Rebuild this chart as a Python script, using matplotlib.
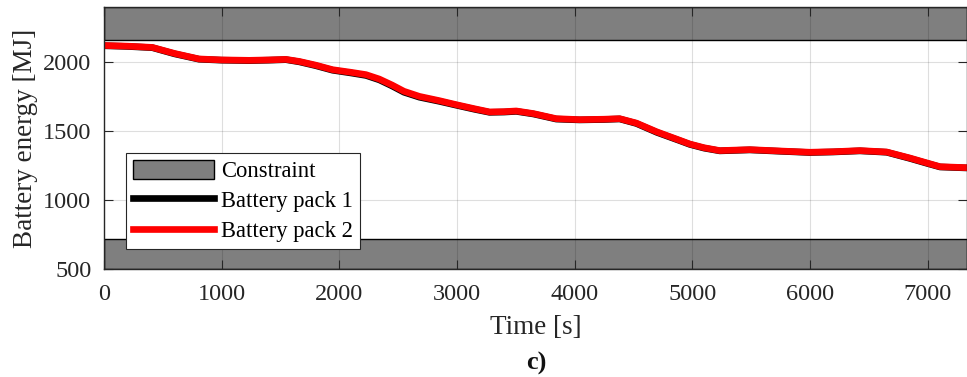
import matplotlib
matplotlib.use("Agg")
import matplotlib.pyplot as plt
from matplotlib.patches import Patch
from matplotlib.lines import Line2D

plt.rcParams['font.family'] = ['Liberation Serif', 'DejaVu Serif']
plt.rcParams['mathtext.fontset'] = 'stix'

# Time samples [s]
time_s = [0, 200, 411, 600, 808, 1000, 1234, 1400, 1546, 1660, 1800, 1943, 2100,
          2227, 2340, 2450, 2550, 2681, 2850, 2993, 3150, 3277, 3400, 3504, 3650,
          3844, 4043, 4250, 4383, 4525, 4700, 4894, 4979, 5100, 5234, 5489, 5750,
          6000, 6200, 6425, 6652, 6850, 7000, 7106, 7333]

# Battery energy of pack 2 [MJ]
pack2_MJ = [2123, 2118, 2109, 2065, 2025, 2018, 2015, 2018, 2022, 2007, 1980, 1947, 1928,
            1911, 1879, 1835, 1790, 1753, 1722, 1693, 1663, 1640, 1642, 1647, 1628,
            1591, 1584, 1587, 1591, 1559, 1495, 1434, 1407, 1380, 1359, 1366, 1356,
            1347, 1351, 1359, 1349, 1305, 1268, 1242, 1235]

# Battery energy of pack 1 [MJ]
pack1_MJ = [2121, 2116, 2107, 2062, 2023, 2016, 2013, 2016, 2020, 2004, 1976, 1943, 1923,
            1905, 1873, 1828, 1783, 1747, 1717, 1689, 1659, 1637, 1639, 1644, 1625,
            1588, 1582, 1585, 1589, 1556, 1491, 1431, 1404, 1377, 1357, 1364, 1354,
            1345, 1349, 1357, 1347, 1302, 1265, 1240, 1233]

# Allowed energy window [MJ]
energy_min = 715
energy_max = 2165
y_limits = [500, 2400]
x_limits = [0, 7335]

fig = plt.figure(figsize=(9.67, 3.77), dpi=100)
ax = fig.add_axes([0.1075, 0.287, 0.8925, 0.6935])

band_kw = dict(facecolor='#7f7f7f', edgecolor='black', linewidth=1.0, zorder=1)
ax.fill_between(x_limits, [y_limits[0]] * 2, [energy_min] * 2, **band_kw)
ax.fill_between(x_limits, [energy_max] * 2, [y_limits[1]] * 2, **band_kw)

ax.plot(time_s, pack1_MJ, color='black', linewidth=4.8, zorder=2.1)
ax.plot(time_s, pack2_MJ, color='#ff0000', linewidth=4.8, zorder=2.2)

ax.set_xlim(x_limits)
ax.set_ylim(y_limits)
ax.set_xticks(range(0, 8000, 1000))
ax.set_yticks([500, 1000, 1500, 2000])

ax.grid(True, color='black', alpha=0.13, linewidth=0.8)
ax.tick_params(direction='in', length=6.5, width=0.8, top=True, right=True,
               labelsize=17.5, colors='#262626', labelcolor='#262626')
ax.tick_params(axis='y', pad=9)
ax.tick_params(axis='x', pad=11)
for s in ax.spines.values():
    s.set_linewidth(1.0)
    s.set_color('#262626')

ax.set_xlabel('Time [s]', fontsize=19.5, color='#262626', labelpad=7)
ax.set_ylabel('Battery energy [MJ]', fontsize=19.5, color='#262626', labelpad=4)

handles = [Patch(facecolor='#7f7f7f', edgecolor='black', linewidth=1.0),
           Line2D([], [], color='black', linewidth=4.8),
           Line2D([], [], color='#ff0000', linewidth=4.8)]
leg = ax.legend(handles, ['Constraint', 'Battery pack 1', 'Battery pack 2'],
                loc='lower left', bbox_to_anchor=(0.0255, 0.0757), borderaxespad=0,
                fontsize=16.3, handlelength=3.6, handleheight=0.9, handletextpad=0.32,
                labelspacing=0.35, borderpad=0.3, fancybox=False, framealpha=1,
                edgecolor='#262626')
leg.get_frame().set_linewidth(0.8)
leg.set_zorder(5)

fig.text(0.555, 0.037, 'c)', fontsize=19, fontweight='bold', ha='center', va='center',
         color='#111111')

fig.savefig('out.png', dpi=100)
